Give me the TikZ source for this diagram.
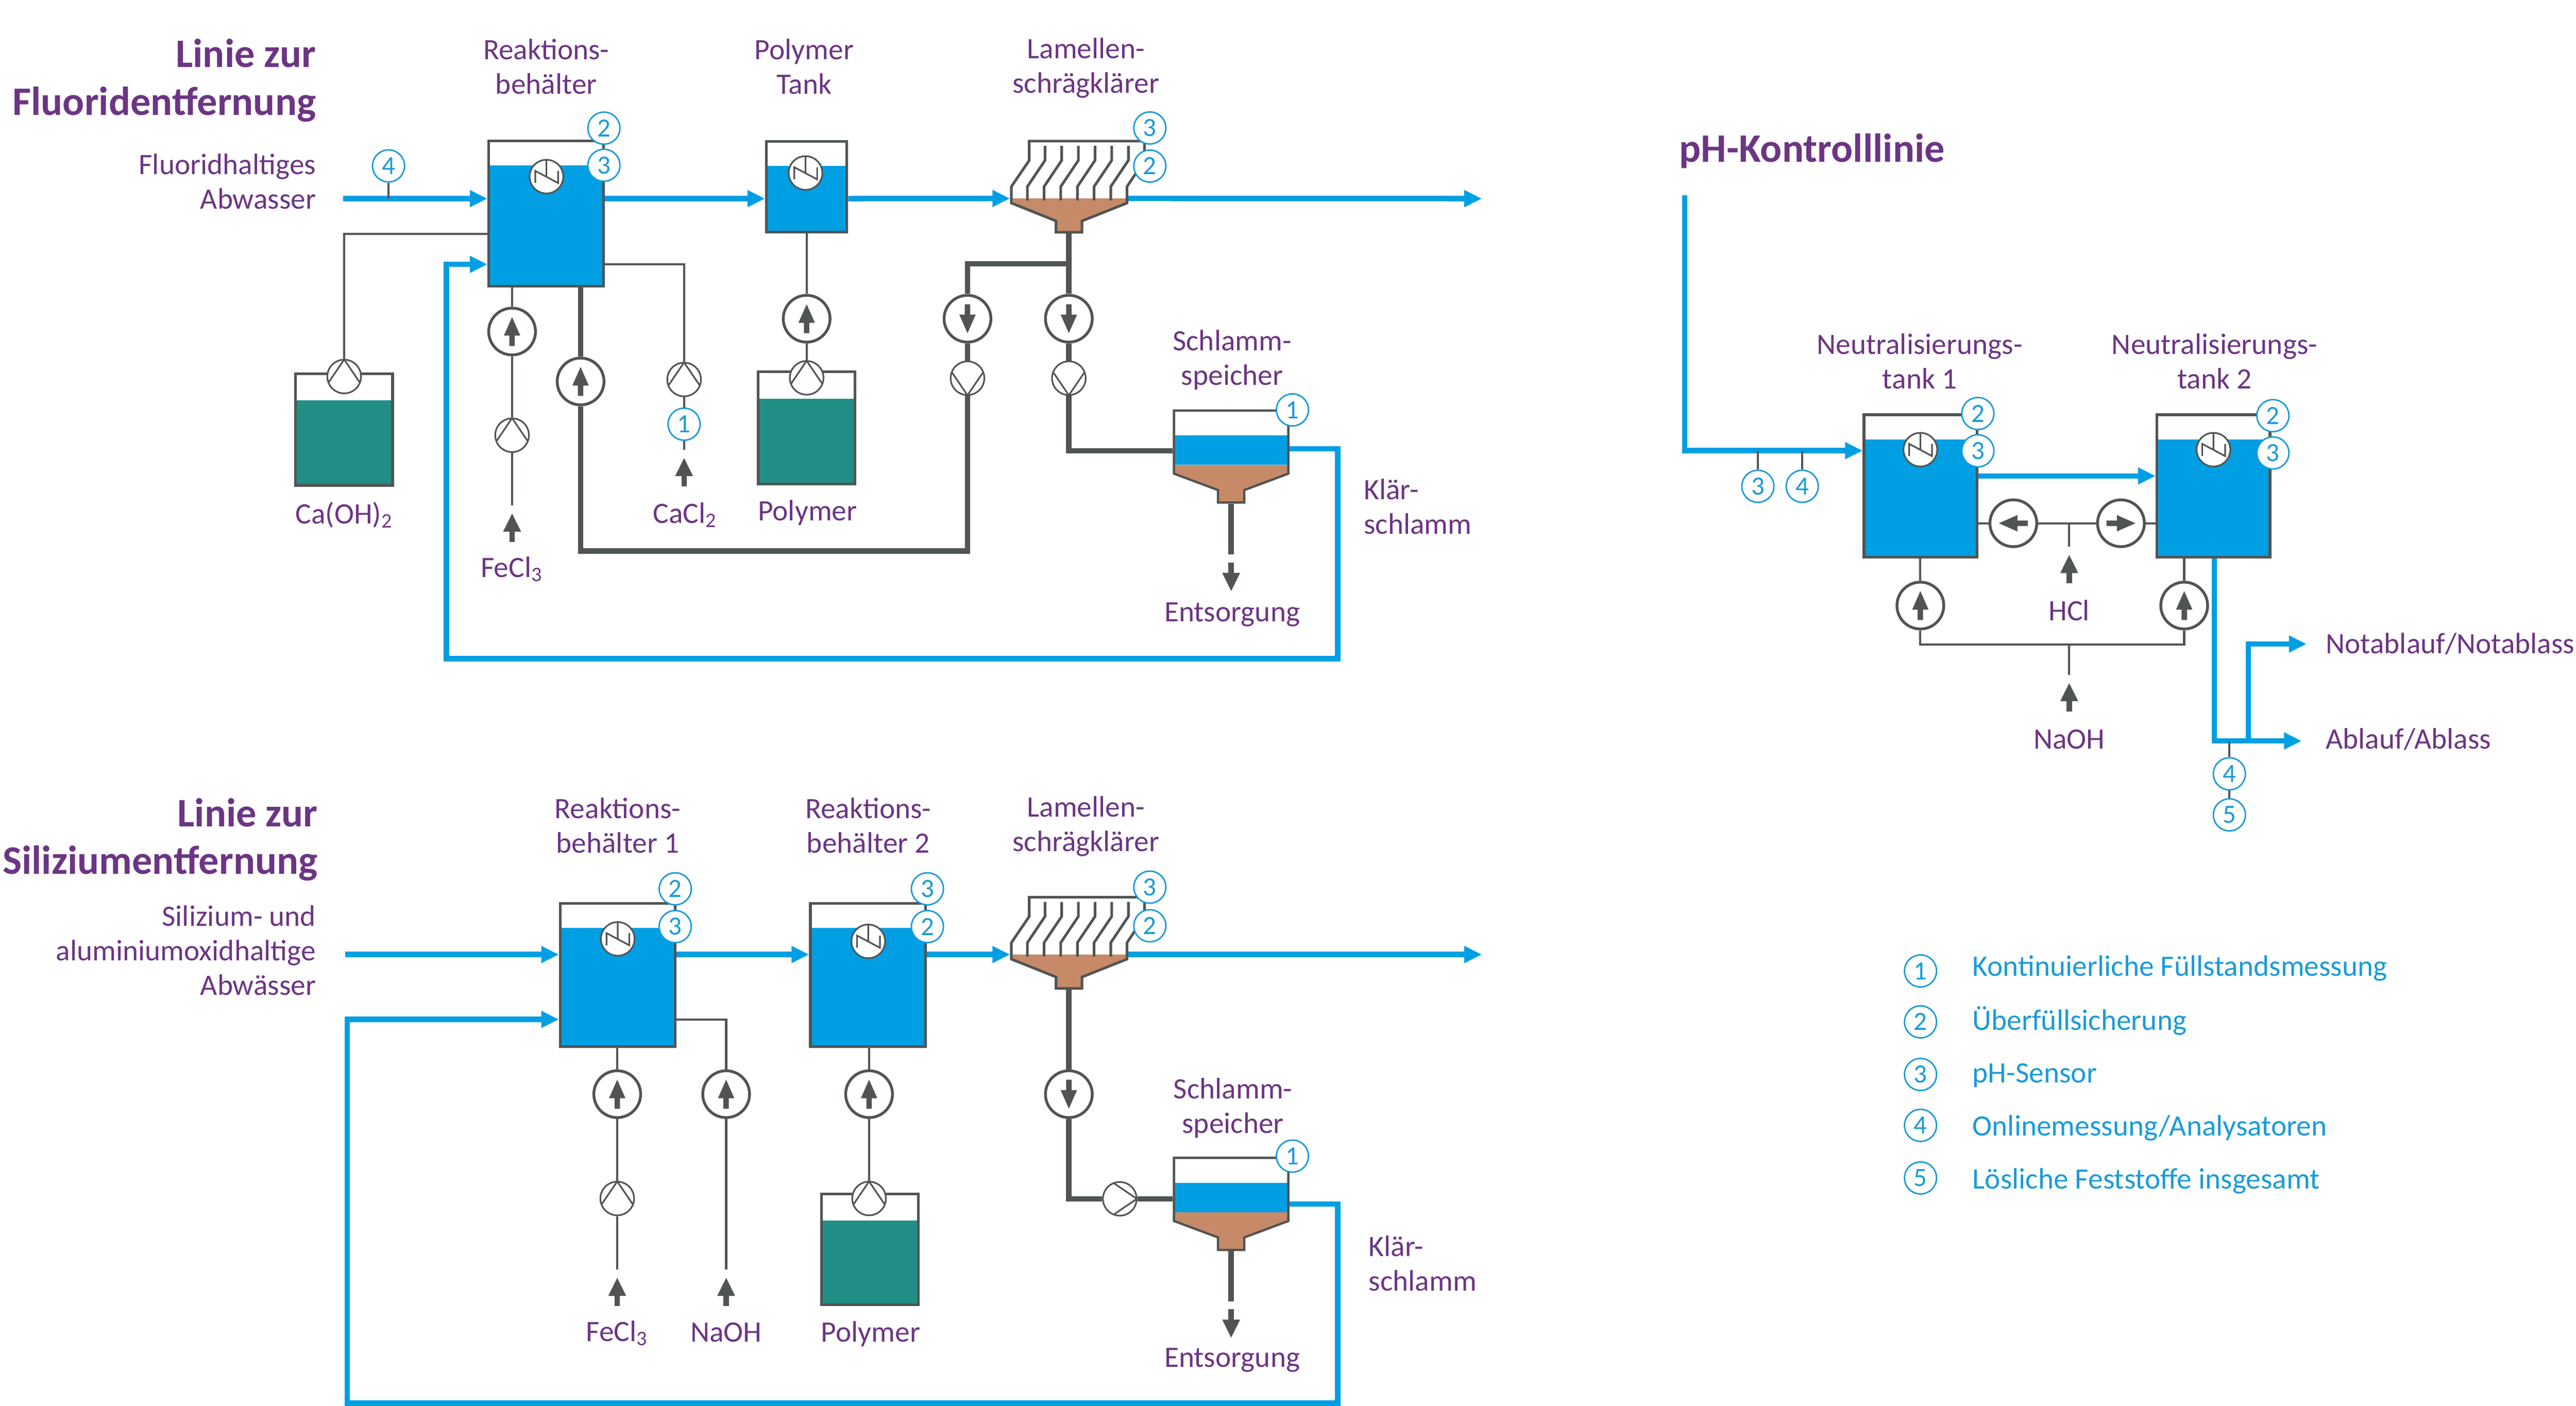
\documentclass[tikz,border=0pt]{standalone}
\usepackage{fontspec}
\setmainfont{Carlito}
\usetikzlibrary{arrows.meta}
\definecolor{wasser}{HTML}{009FE3}
\definecolor{rohr}{HTML}{505454}
\definecolor{gruen}{HTML}{218F86}
\definecolor{schlamm}{HTML}{C68A68}
\definecolor{lila}{HTML}{6C3584}
\definecolor{messung}{HTML}{1A9BD7}

\begin{document}
\begin{tikzpicture}[x=1pt,y=-1pt,>={Triangle[length=10.7pt,width=9.7pt]},
  water/.style={draw=wasser,line width=3.3},
  sludge/.style={draw=rohr,line width=3.3},
  thin pipe/.style={draw=rohr,line width=1.3},
  feed/.style={draw=rohr,line width=3.3,-{Triangle[length=11.3pt,width=10pt]}},
  lbl/.style={text=lila,align=center,inner sep=0,font=\fontsize{18}{21}\selectfont},
  lbl right/.style={lbl,align=right,anchor=east},
  lbl left/.style={lbl,align=left,anchor=west},
  title/.style={text=lila,align=right,anchor=east,inner sep=0,font=\fontsize{24.6}{29}\selectfont\bfseries},
  sensor/.style={circle,draw=messung,fill=white,line width=.9,minimum size=19.5,inner sep=0,
    text=messung,font=\fontsize{16}{16}\selectfont},
  tank/.style n args={4}{rectangle,draw=rohr,line width=1.6,minimum width=#1,minimum height=#2,inner sep=0,
    path picture={\fill[#4] ([yshift=-#3pt]path picture bounding box.north west) rectangle (path picture bounding box.south east);}},
  agitator/.style={circle,draw=rohr,fill=white,line width=1,minimum size=20.5,inner sep=0,
    path picture={\draw[rohr,line width=1,shift={(path picture bounding box.center)}]
      (0,-11) -- (0,.5) (-6.8,3.9) -- (-6.8,-3.5) -- (7.1,3.9) -- (7.1,-3.5);}},
  pump/.style={circle,draw=rohr,fill=white,line width=1,minimum size=20.5,inner sep=0,
    path picture={\draw[rohr,line width=1,shift={(path picture bounding box.center)},
      x={({cos(#1)*1pt},{sin(#1)*1pt})},y={({sin(#1)*1pt},{-cos(#1)*1pt})}]
      (-9.3,3.3) -- (0,-10.4) -- (9.3,3.3);}},
  mixer/.style={circle,draw=rohr,fill=white,line width=1.7,minimum size=28.5,inner sep=0,
    path picture={\fill[rohr,shift={(path picture bounding box.center)},
      x={({cos(#1)*1pt},{sin(#1)*1pt})},y={({sin(#1)*1pt},{-cos(#1)*1pt})}]
      (-1.65,8.8) -- (-1.65,2.5) -- (-5,2.5) -- (0,-8.8) -- (5,2.5) -- (1.65,2.5) -- (1.65,8.8) -- cycle;}},
  pics/clarifier/.style={code={
    \fill[schlamm] (-35,0) -- (35.4,0) -- (35.4,2.8) -- (8,13.7) -- (8,20.6) -- (-7.8,20.6) -- (-7.8,13.7) -- (-35,2.8) -- cycle;
    \draw[rohr,line width=1.6] (-24.1,-34.9) -- (46,-34.9) -- (46,-23.2) -- (35.4,-7.2) -- (35.4,2.8) -- (8,13.7)
      -- (8,20.6) -- (-7.8,20.6) -- (-7.8,13.7) -- (-35,2.8) -- (-35,-7.2) -- (-24.1,-23.2) -- cycle;
    \foreach \i in {0,...,5}
      \draw[rohr,line width=1.6] (-14.5+10.15*\i,-32) -- (-14.5+10.15*\i,-23.2) -- (-25.25+10.15*\i,-7.2) -- (-25.25+10.15*\i,1.2);
    \coordinate (-west) at (-35.8,0);
    \coordinate (-east) at (36.2,0);
    \coordinate (-bottom) at (0,21.4);
  }},
  pics/storage/.style={code={
    \fill[wasser] (-34.8,15.1) rectangle (34.8,33.1);
    \fill[schlamm] (-34.8,33.1) -- (34.8,33.1) -- (34.8,38.4) -- (8,48.4) -- (8,56) -- (-8,56) -- (-8,48.4) -- (-34.8,38.4) -- cycle;
    \draw[rohr,line width=1.4] (-34.8,0) -- (34.8,0) -- (34.8,38.4) -- (8,48.4) -- (8,56) -- (-8,56) -- (-8,48.4) -- (-34.8,38.4) -- cycle;
    \coordinate (-in) at (-35.5,24.5);
    \coordinate (-out) at (35.5,23.2);
    \coordinate (-bottom) at (0,56.7);
  }}]

  \useasboundingbox (0,0) rectangle (1568,855.7);

  % Fluorid
  \node[title] (tiA) at (192.5,49) {Linie zur\\Fluoridentfernung};
  \node[lbl right] (lbA) at (192.5,110.5) {Fluoridhaltiges\\Abwasser};
  \node[lbl] (lbRA) at (332.5,40.5) {Reaktions-\\behälter};
  \node[lbl] (lbPT) at (489.5,40.5) {Polymer\\Tank};
  \node[lbl] (lbLA) at (661,41.5) {Lamellen-\\schrägklärer};
  \node[lbl] (lbSA) at (750,219) {Schlamm-\\speicher};
  \node[lbl left] (lbKA) at (830,308.5) {Klär-\\schlamm};
  \node[lbl] (lbCa) at (209.5,313.5) {Ca(OH)\textsubscript{2}};
  \node[lbl] (lbFeA) at (311.5,346.5) {FeCl\textsubscript{3}};
  \node[lbl] (lbCl) at (417,313.5) {CaCl\textsubscript{2}};
  \node[lbl] (lbPA) at (491.5,312) {Polymer};
  \node[lbl] (lbEA) at (750,374) {Entsorgung};

  \node[tank={70}{88.4}{15}{wasser}] (tA) at (332.5,130) {};
  \node[tank={49}{55.2}{15}{wasser}] (tT) at (491,113.6) {};
  \node[tank={59.1}{67.8}{16.2}{gruen}] (tCa) at (209.4,261.5) {};
  \node[tank={59.1}{68.5}{16.5}{gruen}] (tPA) at (491,260.5) {};
  \pic (cA) at (650.6,120.8) {clarifier};
  \pic (sA) at (749.4,249.9) {storage};

  \node[agitator] (agA) at (332.6,107.5) {};
  \node[agitator] (agT) at (490.3,105.3) {};
  \node[sensor] (sA2) at (367.6,78) {2};
  \node[sensor] (sA3) at (367.6,100.6) {3};
  \node[sensor] (sA4) at (236.5,101) {4};
  \node[sensor] (sC3) at (699.9,77.9) {3};
  \node[sensor] (sC2) at (699.9,101.1) {2};
  \node[sensor] (sS1) at (786.7,249.5) {1};
  \node[sensor] (sCl) at (416.4,258.2) {1};

  \node[pump=0] (pCa) at (209.5,229.2) {};
  \node[pump=0] (pPA) at (491,230) {};
  \node[pump=0] (pFe) at (311.7,264.9) {};
  \node[pump=0] (pCl) at (416.4,231) {};
  \node[pump=180] (pR) at (588.9,230.2) {};
  \node[pump=180] (pS) at (650.6,230.2) {};
  \node[mixer=0] (mFe) at (311.7,201.8) {};
  \node[mixer=0] (mR) at (353.4,232.2) {};
  \node[mixer=0] (mPA) at (491,194) {};
  \node[mixer=180] (mB) at (588.9,194) {};
  \node[mixer=180] (mS) at (650.6,194) {};

  % Silizium
  \node[title] (tiB) at (193.5,511) {Linie zur\\Siliziumentfernung};
  \node[lbl right] (lbB) at (192.5,578.5) {Silizium- und\\aluminiumoxidhaltige\\Abwässer};
  \node[lbl] (lbR1) at (376,502.5) {Reaktions-\\behälter 1};
  \node[lbl] (lbR2) at (528.5,502.5) {Reaktions-\\behälter 2};
  \node[lbl] (lbLB) at (661,503) {Lamellen-\\schrägklärer};
  \node[lbl] (lbSB) at (750.5,674.5) {Schlamm-\\speicher};
  \node[lbl left] (lbKB) at (833,769) {Klär-\\schlamm};
  \node[lbl] (lbFeB) at (375.5,811.5) {FeCl\textsubscript{3}};
  \node[lbl] (lbNaB) at (442,811) {NaOH};
  \node[lbl] (lbPB) at (530,812) {Polymer};
  \node[lbl] (lbEB) at (750,828) {Entsorgung};

  \node[tank={70}{87.4}{15}{wasser}] (tB1) at (376,593.5) {};
  \node[tank={70}{87.4}{15}{wasser}] (tB2) at (528.3,593.5) {};
  \node[tank={59.1}{67.6}{16.2}{gruen}] (tPB) at (529.5,760.5) {};
  \pic (cB) at (650.6,581) {clarifier};
  \pic (sB) at (749.4,704.8) {storage};

  \node[agitator] (agB1) at (376,571.5) {};
  \node[agitator] (agB2) at (528.5,573) {};
  \node[sensor] (sB2) at (411,541) {2};
  \node[sensor] (sB3) at (411,564) {3};
  \node[sensor] (sD3) at (564.5,541) {3};
  \node[sensor] (sD2) at (564.5,564) {2};
  \node[sensor] (sE3) at (699.9,540) {3};
  \node[sensor] (sE2) at (699.9,563.5) {2};
  \node[sensor] (sF1) at (786.7,703.7) {1};

  \node[pump=0] (pFeB) at (375.7,729.5) {};
  \node[pump=0] (pPB) at (529,729.5) {};
  \node[pump=-90] (pSB) at (681.6,729.7) {};
  \node[mixer=0] (mFeB) at (375.7,666) {};
  \node[mixer=0] (mNaB) at (442,666) {};
  \node[mixer=0] (mPB) at (529,666) {};
  \node[mixer=180] (mSB) at (650.6,666) {};

  % pH
  \node[title,anchor=west] (tiC) at (1022,92) {pH-Kontrolllinie};
  \node[lbl] (lbN1) at (1168.5,220) {Neutralisierungs-\\tank 1};
  \node[lbl] (lbN2) at (1348,220) {Neutralisierungs-\\tank 2};
  \node[lbl] (lbHCl) at (1259.5,371.5) {HCl};
  \node[lbl] (lbNaC) at (1259.5,450) {NaOH};
  \node[lbl left] (lbNot) at (1415.5,392) {Notablauf/Notablass};
  \node[lbl left] (lbAb) at (1415.5,450) {Ablauf/Ablass};

  \node[tank={68.8}{86.7}{15}{wasser}] (tN1) at (1169,295.8) {};
  \node[tank={68.8}{86.7}{15}{wasser}] (tN2) at (1347.3,295.8) {};

  \node[agitator] (agN1) at (1168.9,273.7) {};
  \node[agitator] (agN2) at (1347.3,273.7) {};
  \node[sensor] (sN12) at (1203.9,251.7) {2};
  \node[sensor] (sN13) at (1203.9,274.4) {3};
  \node[sensor] (sN22) at (1383.5,253) {2};
  \node[sensor] (sN23) at (1383.5,275.7) {3};
  \node[sensor] (sI3) at (1070,296) {3};
  \node[sensor] (sI4) at (1097,296) {4};
  \node[sensor] (sO4) at (1357,471) {4};
  \node[sensor] (sO5) at (1357,496) {5};

  \node[mixer=90] (mL) at (1225.5,318.5) {};
  \node[mixer=-90] (mRt) at (1291,318.5) {};
  \node[mixer=0] (mN1) at (1168.9,368.6) {};
  \node[mixer=0] (mN2) at (1329.5,368.6) {};

  % Legende
  \foreach \n/\yc/\yt/\txt in {1/591/589.5/Kontinuierliche Füllstandsmessung,2/622/621.5/Überfüllsicherung,
      3/654/654.5/pH-Sensor,4/685/686.5/{Onlinemessung/Analysatoren},5/717/719/Lösliche Feststoffe insgesamt}{
    \node[sensor] (leg\n) at (1169,\yc) {\n};
    \node[lbl left,text=messung] (legt\n) at (1200.5,\yt) {\txt};
  }

  % Zulaeufe
  \foreach \n/\x/\y in {fe/311.7/329.8,cl/416.4/296,feb/375.7/795,nab/442/795,hcl/1259.5/355,nac/1259.5/433}{
    \coordinate (\n b) at (\x,\y);
    \coordinate (\n t) at (\x,\y-17.5);
    \coordinate (\n e) at (\x,\y-22.2);
    \draw[feed] (\n b) -- (\n t);
  }

  \coordinate (inA) at (209,120.9);
  \coordinate (outA) at (902,120.9);
  \coordinate (rA1) at (814.2,401);
  \coordinate (rA3) at (271.7,160.9);
  \coordinate (caL) at (209.5,142.5);
  \coordinate (jA) at (650.6,160.5);
  \coordinate (bA) at (588.9,335.4);
  \coordinate (bB) at (353.4,335.4);
  \coordinate (eA1) at (749.4,337.5);
  \coordinate (eA2) at (749.4,342.5);
  \coordinate (eA3) at (749.4,360);

  \draw[water,->] (inA) -- (tA.west |- inA);
  \draw[water,->] (tA.east |- inA) -- (tT.west |- inA);
  \draw[water,->] (tT.east |- inA) -- (cA-west);
  \draw[water,->] (cA-east) -- (outA);
  \draw[water,->] (sA-out) -| (rA1) -| (rA3) -- (tA.west |- rA3);
  \draw[thin pipe] (sA4) -- (sA4 |- inA);
  \draw[thin pipe] (pCa) |- (caL -| tA.west);
  \draw[thin pipe] (tA.south -| mFe) -- (mFe);
  \draw[thin pipe] (mFe) -- (pFe);
  \draw[thin pipe] (pFe) -- (fee);
  \draw[thin pipe] (tA.east |- rA3) -| (pCl);
  \draw[thin pipe] (pCl) -- (sCl);
  \draw[thin pipe] (sCl) -- (cle);
  \draw[thin pipe] (tT.south -| mPA) -- (mPA);
  \draw[thin pipe] (mPA) -- (pPA);
  \draw[sludge] (tA.south -| mR) -- (mR);
  \draw[sludge] (mR) -- (bB) -- (bA) -- (pR);
  \draw[sludge] (pR) -- (mB);
  \draw[sludge] (mB) |- (jA);
  \draw[sludge] (cA-bottom) -- (mS);
  \draw[sludge] (mS) -- (pS);
  \draw[sludge] (pS) |- (sA-in);
  \draw[sludge] (sA-bottom) -- (eA1);
  \draw[feed] (eA2) -- (eA3);

  \coordinate (inB) at (210,581);
  \coordinate (outB) at (902,581);
  \coordinate (rB0) at (814.2,732.9);
  \coordinate (rB1) at (814.2,854);
  \coordinate (rB3) at (211.3,620.5);
  \coordinate (eB1) at (749.4,792);
  \coordinate (eB2) at (749.4,797);
  \coordinate (eB3) at (749.4,814.5);

  \draw[water,->] (inB) -- (tB1.west |- inB);
  \draw[water,->] (tB1.east |- inB) -- (tB2.west |- inB);
  \draw[water,->] (tB2.east |- inB) -- (cB-west);
  \draw[water,->] (cB-east) -- (outB);
  \draw[water,->] (rB0 -| sB-out) -| (rB1) -| (rB3) -- (tB1.west |- rB3);
  \draw[thin pipe] (tB1.south -| mFeB) -- (mFeB);
  \draw[thin pipe] (mFeB) -- (pFeB);
  \draw[thin pipe] (pFeB) -- (febe);
  \draw[thin pipe] (tB1.east |- rB3) -| (mNaB);
  \draw[thin pipe] (mNaB) -- (nabe);
  \draw[thin pipe] (tB2.south -| mPB) -- (mPB);
  \draw[thin pipe] (mPB) -- (pPB);
  \draw[sludge] (cB-bottom) -- (mSB);
  \draw[sludge] (mSB) |- (pSB);
  \draw[sludge] (pSB) -- (sB-in |- pSB);
  \draw[sludge] (sB-bottom) -- (eB1);
  \draw[feed] (eB2) -- (eB3);

  \coordinate (inC) at (1025.5,119);
  \coordinate (inC2) at (1025.5,274.3);
  \coordinate (n12) at (1204.2,289.7);
  \coordinate (bus1) at (1168.9,392.3);
  \coordinate (bus2) at (1329.5,392.3);
  \coordinate (hi) at (1259.5,318.5);
  \coordinate (lo) at (1259.5,392.3);
  \coordinate (abl) at (1347.8,451);
  \coordinate (ablE) at (1401,451);
  \coordinate (nab) at (1368.5,451);
  \coordinate (notE) at (1404,392);
  \coordinate (sOt) at (1357,451);

  \draw[water,->] (inC) -- (inC2) -- (tN1.west |- inC2);
  \draw[water,->] (n12) -- (tN2.west |- n12);
  \draw[thin pipe] (sI3) -- (sI3 |- inC2);
  \draw[thin pipe] (sI4) -- (sI4 |- inC2);
  \draw[thin pipe] (tN1.east |- mL) -- (mL);
  \draw[thin pipe] (mL) -- (mRt);
  \draw[thin pipe] (mRt) -- (tN2.west |- mRt);
  \draw[thin pipe] (hi) -- (hcle);
  \draw[thin pipe] (tN1.south -| mN1) -- (mN1);
  \draw[thin pipe] (tN2.south -| mN2) -- (mN2);
  \draw[thin pipe] (mN1) -- (bus1) -- (bus2) -- (mN2);
  \draw[thin pipe] (lo) -- (nace);
  \draw[water,->] (tN2.south -| abl) -- (abl) -- (ablE);
  \draw[water,->] (nab) |- (notE);
  \draw[thin pipe] (sOt) -- (sO4);
  \draw[thin pipe] (sO4) -- (sO5);
\end{tikzpicture}
\end{document}
